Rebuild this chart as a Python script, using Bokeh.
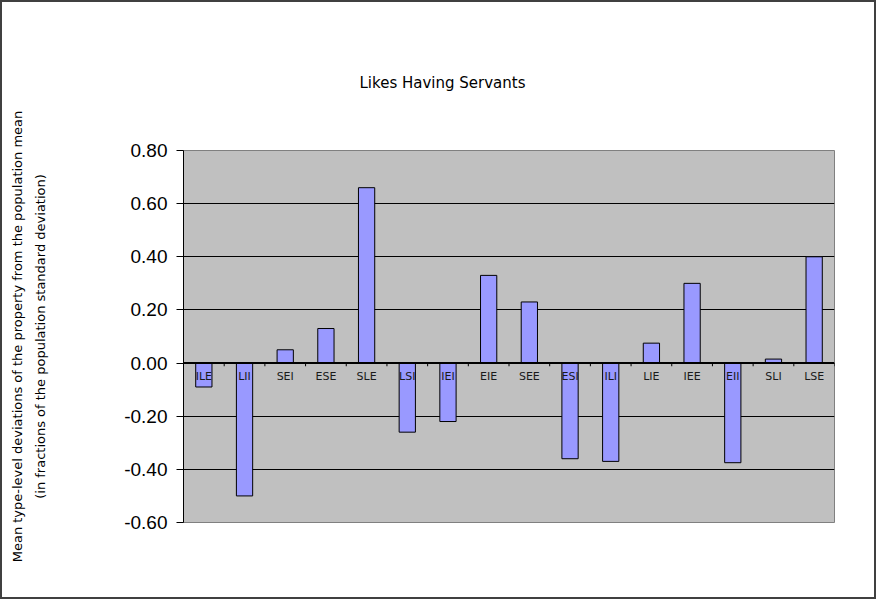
from bokeh.plotting import figure
from bokeh.models import (Range1d, FactorRange, FixedTicker, NumeralTickFormatter,
                          LinearAxis, Span, ColumnDataSource)
from bokeh.core.properties import value
from bokeh.transform import dodge
from bokeh.embed import file_html
from bokeh.resources import INLINE

# ---- data ----
title_text = "Likes Having Servants"
y_label_1 = "Mean type-level deviations of the property from the population mean"
y_label_2 = "(in fractions of the population standard deviation)"
categories = ["ILE", "LII", "SEI", "ESE", "SLE", "LSI", "IEI", "EIE",
              "SEE", "ESI", "ILI", "LIE", "IEE", "EII", "SLI", "LSE"]
values = [-0.09, -0.50, 0.05, 0.13, 0.66, -0.26, -0.22, 0.33,
          0.23, -0.36, -0.37, 0.075, 0.30, -0.375, 0.015, 0.40]
y_ticks = [-0.6, -0.4, -0.2, 0.0, 0.2, 0.4, 0.6, 0.8]

src = ColumnDataSource(dict(cat=categories, val=values,
                            base=[0.0] * len(categories),
                            tick_end=[-0.012] * len(categories)))

p = figure(width=876, height=599, output_backend="svg", toolbar_location=None,
           x_range=FactorRange(*categories, range_padding=0),
           y_range=Range1d(-0.6, 0.8),
           min_border_left=181, min_border_right=44,
           min_border_top=148, min_border_bottom=79,
           styles={"border": "2px solid #404040", "box-sizing": "border-box"})

p.background_fill_color = "#C0C0C0"
p.border_fill_color = "white"
p.outline_line_color = "#808080"
p.outline_line_width = 1

# title
p.title.text = title_text
p.title.align = "left"
p.title.offset = 176
p.title.standoff = 118
p.title.text_font = "DejaVu Sans"
p.title.text_font_size = "15px"
p.title.text_font_style = "normal"
p.title.text_color = "black"

# x axis hidden; labels drawn at zero line
p.xaxis.visible = False
p.xgrid.visible = False

# y axis
yax = p.yaxis[0]
yax.ticker = FixedTicker(ticks=y_ticks)
yax.formatter = NumeralTickFormatter(format="0.00")
yax.major_label_text_font = "Liberation Sans"
yax.major_label_text_font_size = "19px"
yax.major_label_text_color = "black"
yax.major_tick_in = 0
yax.major_tick_out = 7
yax.minor_tick_line_color = None
yax.axis_line_color = "black"
yax.major_tick_line_color = "black"
yax.major_label_standoff = 9
yax.axis_label = y_label_2
yax.axis_label_text_font = "DejaVu Sans"
yax.axis_label_text_font_size = "13px"
yax.axis_label_text_font_style = "normal"
yax.axis_label_text_color = "black"
yax.axis_label_standoff = 73

extra = LinearAxis(ticker=FixedTicker(ticks=[]), axis_line_color=None,
                   major_tick_line_color=None, minor_tick_line_color=None,
                   axis_label=y_label_1, axis_label_text_font="DejaVu Sans",
                   axis_label_text_font_size="13px", axis_label_text_font_style="normal",
                   axis_label_text_color="black", axis_label_standoff=6)
p.add_layout(extra, "left")

p.ygrid.ticker = FixedTicker(ticks=[t for t in y_ticks if -0.6 < t < 0.8])
p.ygrid.grid_line_color = "black"
p.ygrid.grid_line_width = 1

# bars
p.vbar(x="cat", top="val", bottom="base", width=0.4, source=src,
       fill_color="#9999FF", line_color="black", line_width=1)

# zero line
p.add_layout(Span(location=0, dimension="width", line_color="black", line_width=2))

# boundary ticks on zero line
p.segment(x0=dodge("cat", 0.5, range=p.x_range), y0="base",
          x1=dodge("cat", 0.5, range=p.x_range), y1="tick_end",
          source=src, line_color="black", line_width=1)

# category labels just below the zero line
p.text(x="cat", y="base", text="cat", source=src, y_offset=13,
       text_align="center", text_baseline="middle",
       text_font=value("DejaVu Sans"), text_font_size=value("11px"),
       text_color="#1a1a1a")

open("out.html", "w").write(file_html(p, INLINE))
